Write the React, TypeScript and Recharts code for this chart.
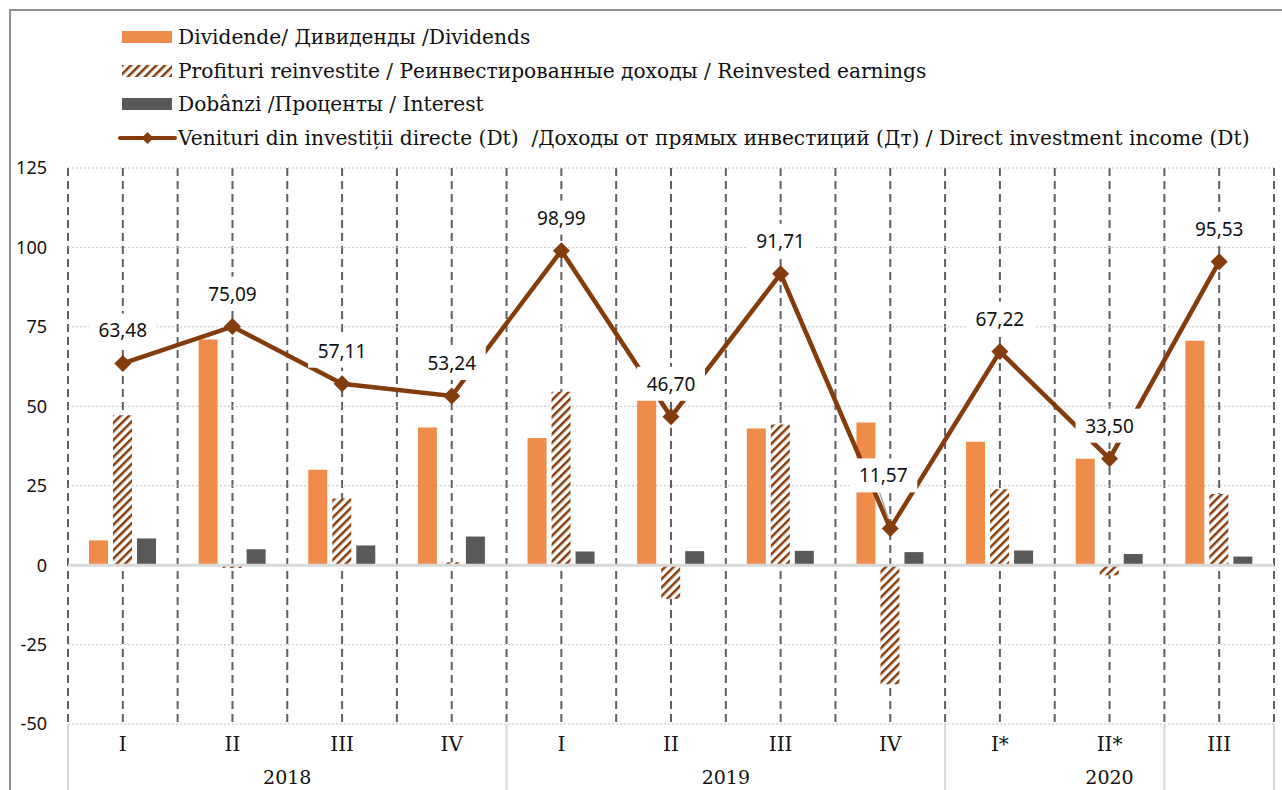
import React from 'react';
import { ComposedChart, Bar, Line, XAxis, YAxis, CartesianGrid, ReferenceLine, LabelList } from 'recharts';

const quarters = ['I', 'II', 'III', 'IV', 'I', 'II', 'III', 'IV', 'I*', 'II*', 'III'];
const years = ['2018', '2018', '2018', '2018', '2019', '2019', '2019', '2019', '2020', '2020', '2020'];
const dividends = [7.8, 71.0, 30.0, 43.3, 40.0, 52.6, 43.0, 44.9, 38.8, 33.5, 70.6];
const reinvested = [47.2, -0.9, 21.0, 0.9, 54.6, -10.6, 44.3, -37.5, 23.9, -3.2, 22.4];
const interest = [8.4, 5.0, 6.2, 9.0, 4.3, 4.4, 4.5, 4.1, 4.6, 3.5, 2.7];
const income = [63.48, 75.09, 57.11, 53.24, 98.99, 46.70, 91.71, 11.57, 67.22, 33.50, 95.53];
const yTicks = [-50, -25, 0, 25, 50, 75, 100, 125];

const legendLabels = [
  'Dividende/ Дивиденды /Dividends',
  'Profituri reinvestite / Реинвестированные доходы / Reinvested earnings',
  'Dobânzi /Проценты / Interest',
  'Venituri din investiții directe (Dt)  /Доходы от прямых инвестиций (Дт) / Direct investment income (Dt)',
];

const data = quarters.map((q, i) => ({
  q,
  yr: years[i],
  dividends: dividends[i],
  reinvested: reinvested[i],
  interest: interest[i],
  income: income[i],
}));

const ORANGE = '#F08C4A';
const BROWN = '#843C0C';
const GREY = '#595959';
const SERIF = '"DejaVu Serif", serif';
const SANS = '"Noto Sans", sans-serif';

const W = 1282;
const H = 790;
const PLOT_LEFT = 68;
const PLOT_RIGHT = 1274;
const PLOT_TOP = 168;
const PLOT_BOTTOM = 724;
const BAND = (PLOT_RIGHT - PLOT_LEFT) / quarters.length;

const fmt = (v: number) => v.toFixed(2).replace('.', ',');

function Diamond(props: any) {
  const { cx, cy } = props;
  if (cx == null || cy == null) return null;
  const r = 8.5;
  return <polygon points={`${cx},${cy - r} ${cx + r},${cy} ${cx},${cy + r} ${cx - r},${cy}`} fill={BROWN} />;
}

function PointLabel(props: any) {
  const { x, y, value, index } = props;
  const special = index === 7;
  const lx = special ? x - 7 : x;
  const ly = special ? y - 53 : y - 33;
  return (
    <g>
      {special && <line x1={x - 2} y1={y - 10} x2={lx - 4} y2={ly + 16} stroke="#a6a6a6" strokeWidth={1.5} />}
      <rect x={lx - 34} y={ly - 17} width={68} height={34} fill="#fff" />
      <text x={lx} y={ly} textAnchor="middle" dominantBaseline="central" fontFamily={SANS} fontSize={19} fill="#111">
        {fmt(value)}
      </text>
    </g>
  );
}

function YearTick(props: any) {
  const { x, index } = props;
  const first = index === 0 || years[index - 1] !== years[index];
  const last = index === years.length - 1;
  if (!first && !last) return null;
  let count = 0;
  while (index + count < years.length && years[index + count] === years[index]) count++;
  const left = x - BAND / 2;
  const center = left + (count * BAND) / 2;
  return (
    <g>
      <line x1={left} y1={PLOT_BOTTOM} x2={left} y2={H} stroke="#d9d9d9" strokeWidth={2} />
      {last && <line x1={x + BAND / 2} y1={PLOT_BOTTOM} x2={x + BAND / 2} y2={H} stroke="#d9d9d9" strokeWidth={2} />}
      {first && (
        <text x={center} y={777} textAnchor="middle" dominantBaseline="central" fontFamily={SERIF} fontSize={19} fill="#111">
          {years[index]}
        </text>
      )}
    </g>
  );
}

function Swatch({ kind }: { kind: number }) {
  return (
    <svg width={kind === 3 ? 60 : 56} height={14} style={{ display: 'block' }}>
      <defs>
        <pattern id="hatchLegend" patternUnits="userSpaceOnUse" width={6} height={6} patternTransform="rotate(45)">
          <rect width={6} height={6} fill="#fff" />
          <line x1={0} y1={0} x2={0} y2={6} stroke={BROWN} strokeWidth={5} />
        </pattern>
      </defs>
      {kind === 0 && <rect x={0} y={1} width={50} height={12} fill={ORANGE} />}
      {kind === 1 && <rect x={0} y={1} width={50} height={12} fill="url(#hatchLegend)" />}
      {kind === 2 && <rect x={0} y={1} width={50} height={12} fill={GREY} />}
      {kind === 3 && (
        <g>
          <line x1={2} y1={7} x2={57} y2={7} stroke={BROWN} strokeWidth={4} strokeLinecap="round" />
          <polygon points="29.5,1 35.5,7 29.5,13 23.5,7" fill={BROWN} />
        </g>
      )}
    </svg>
  );
}

export default function App() {
  return (
    <div style={{ position: 'absolute', left: 0, top: 0, width: W, height: H, overflow: 'hidden', background: '#fff' }}>
      <div
        style={{
          position: 'absolute',
          left: 9,
          top: 9,
          width: W + 20,
          height: H + 20,
          border: '2px solid #8f8f8f',
        }}
      />
      {legendLabels.map((label, i) => (
        <div
          key={label}
          style={{
            position: 'absolute',
            left: i === 3 ? 118 : 122,
            top: 37 + i * 33.5 - 14,
            height: 28,
            display: 'flex',
            alignItems: 'center',
            whiteSpace: 'pre',
            fontFamily: SERIF,
            fontSize: 20.2,
            color: '#111',
          }}
        >
          <Swatch kind={i} />
          <span>{label}</span>
        </div>
      ))}
      <div style={{ position: 'absolute', left: 0, top: 0 }}>
        <ComposedChart
          width={W}
          height={H}
          data={data}
          margin={{ top: PLOT_TOP, right: W - PLOT_RIGHT, bottom: 0, left: PLOT_LEFT - 60 }}
          barGap={5}
          barSize={19}
        >
          <defs>
            <pattern id="hatch" patternUnits="userSpaceOnUse" width={6} height={6} patternTransform="rotate(45)">
              <rect width={6} height={6} fill="#fff" />
              <line x1={0} y1={0} x2={0} y2={6} stroke={BROWN} strokeWidth={5} />
            </pattern>
          </defs>
          <CartesianGrid
            horizontal={false}
            stroke="#5f5f5f"
            strokeWidth={2}
            strokeDasharray="8 5"
            verticalCoordinatesGenerator={({ offset }: any) =>
              Array.from({ length: quarters.length * 2 + 1 }, (_, i) => offset.left + (i * offset.width) / (quarters.length * 2))
            }
          />
          <CartesianGrid vertical={false} stroke="#c4c4c4" strokeDasharray="2 2" strokeWidth={1} />
          <XAxis
            dataKey="q"
            height={33}
            axisLine={false}
            tickLine={false}
            interval={0}
            tickMargin={7}
            tick={{ fontFamily: SERIF, fontSize: 20, fill: '#111' }}
          />
          <XAxis
            dataKey="yr"
            xAxisId="yr"
            height={33}
            axisLine={false}
            tickLine={false}
            interval={0}
            allowDuplicatedCategory={true}
            tick={<YearTick />}
          />
          <YAxis
            width={60}
            domain={[-50, 125]}
            ticks={yTicks}
            axisLine={false}
            tickLine={false}
            tickMargin={15}
            tick={{ fontFamily: SANS, fontSize: 18, fill: '#111' }}
          />
          <ReferenceLine y={0} stroke="#d9d9d9" strokeWidth={3} />
          <Bar dataKey="dividends" fill={ORANGE} isAnimationActive={false} />
          <Bar dataKey="reinvested" fill="url(#hatch)" isAnimationActive={false} />
          <Bar dataKey="interest" fill={GREY} isAnimationActive={false} />
          <Line
            dataKey="income"
            type="linear"
            stroke={BROWN}
            strokeWidth={4.5}
            dot={<Diamond />}
            activeDot={false}
            isAnimationActive={false}
          >
            <LabelList dataKey="income" content={<PointLabel />} />
          </Line>
        </ComposedChart>
      </div>
    </div>
  );
}
